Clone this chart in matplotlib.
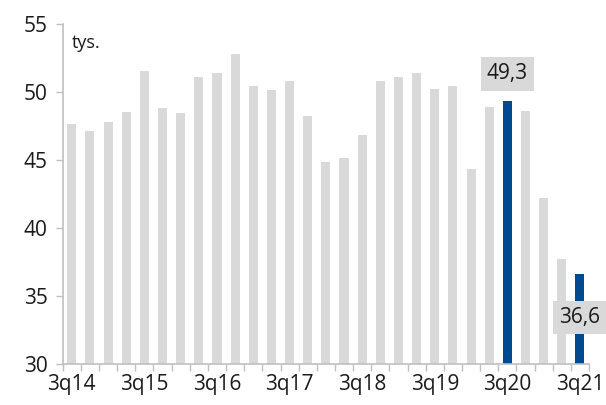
import matplotlib.pyplot as plt
import numpy as np

plt.rcParams['font.family'] = ['Open Sans', 'DejaVu Sans']

quarters = ["3q14", "4q14", "1q15", "2q15", "3q15", "4q15", "1q16", "2q16",
            "3q16", "4q16", "1q17", "2q17", "3q17", "4q17", "1q18", "2q18",
            "3q18", "4q18", "1q19", "2q19", "3q19", "4q19", "1q20", "2q20",
            "3q20", "4q20", "1q21", "2q21", "3q21"]
values = [47.6, 47.1, 47.8, 48.5, 51.5, 48.8, 48.4, 51.1,
          51.4, 52.8, 50.4, 50.1, 50.8, 48.2, 44.8, 45.1,
          46.8, 50.8, 51.1, 51.4, 50.2, 50.4, 44.3, 48.9,
          49.3, 48.6, 42.2, 37.7, 36.6]
highlight = ["3q20", "3q21"]

grey = "#d9d9d9"
blue = "#004a8f"
axis_col = "#bfbfbf"

fig = plt.figure(figsize=(6.06, 4.05), dpi=100)
ax = fig.add_axes([0.1035, 0.1012, 0.8685, 0.8405])

x = np.arange(len(quarters))
colors = [blue if q in highlight else grey for q in quarters]
ax.bar(x, values, width=0.5, color=colors, zorder=2)

ax.set_xlim(-0.5, len(quarters) - 0.5)
ax.set_ylim(30, 55)
ax.set_yticks(np.arange(30, 56, 5))

# tick marks between categories, labels every 4th quarter
ax.set_xticks(np.arange(-0.5, len(quarters) + 0.5, 1))
ax.set_xticklabels([])
ax.set_xticks(x[::4], minor=True)
ax.set_xticklabels(quarters[::4], minor=True)
ax.tick_params(axis='x', which='major', length=5, color=axis_col, width=1)
ax.tick_params(axis='x', which='minor', length=0, pad=7, labelsize=15, labelcolor="#1a1a1a")
ax.tick_params(axis='y', length=5, color=axis_col, width=1, labelsize=15,
               labelcolor="#1a1a1a", pad=6)

for s in ["top", "right"]:
    ax.spines[s].set_visible(False)
for s in ["left", "bottom"]:
    ax.spines[s].set_color(axis_col)
    ax.spines[s].set_linewidth(1.2)

ax.text(0.0, 53.6, "tys.", fontsize=13, color="#1a1a1a", va="center", ha="left")

i20 = quarters.index("3q20")
ax.text(x[i20], values[i20] + 2.0, "49,3", fontsize=15, color="#1a1a1a",
        ha="center", va="center",
        bbox=dict(boxstyle="square,pad=0.3", fc=grey, ec="none"), zorder=3)
i21 = quarters.index("3q21")
ax.text(x[i21], 33.4, "36,6", fontsize=15, color="#1a1a1a",
        ha="center", va="center",
        bbox=dict(boxstyle="square,pad=0.3", fc=grey, ec="none"), zorder=3)

fig.savefig("out.png", dpi=100)
